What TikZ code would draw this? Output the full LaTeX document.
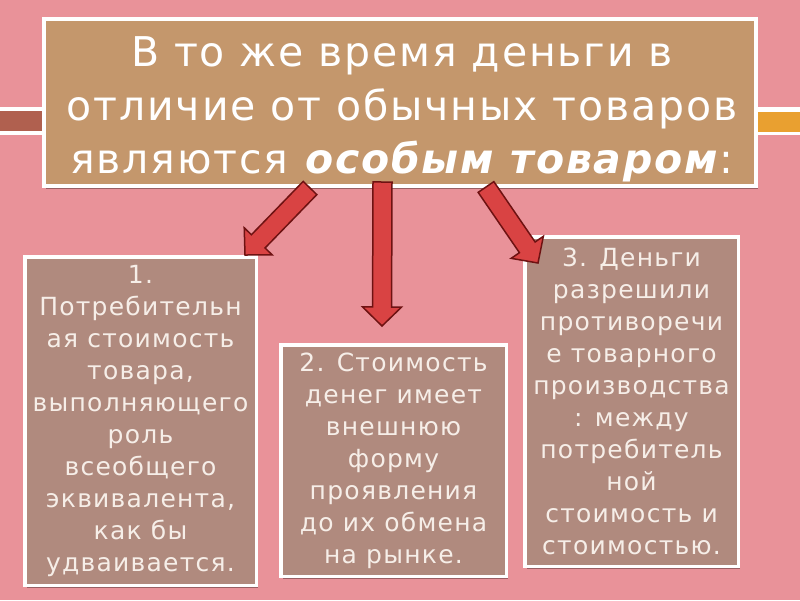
\documentclass[tikz,border=0pt]{standalone}
\usepackage{fontspec}
\setmainfont{DejaVu Sans}
\usepackage{xcolor}
\definecolor{slidepink}{HTML}{E99299}
\definecolor{titletan}{HTML}{C4976C}
\definecolor{boxbrown}{HTML}{B08A7E}
\definecolor{bandbrown}{HTML}{B0604F}
\definecolor{bandorange}{HTML}{E9A030}
\definecolor{arrowred}{HTML}{D94343}
\definecolor{arrowedge}{HTML}{6E1212}
\definecolor{paletext}{HTML}{F6EEE8}
\usepackage{tikz}
\usetikzlibrary{calc,shadows}

\tikzset{
  titlebox/.style={draw=white, line width=3.5pt, fill=titletan, inner sep=0pt,
    minimum width=712pt, minimum height=167pt,
    drop shadow={shadow xshift=2pt, shadow yshift=-2.5pt, fill=black, opacity=0.35}},
  titletext/.style={align=center, text=white, inner sep=0pt,
    font=\fontsize{41}{53.5}\selectfont\addfontfeatures{LetterSpace=4.5}},
  infobox/.style={draw=white, line width=3.5pt, fill=boxbrown, inner sep=0pt,
    align=center, text=paletext,
    font=\fontsize{25}{32}\selectfont\addfontfeatures{LetterSpace=5},
    drop shadow={shadow xshift=2pt, shadow yshift=-2.5pt, fill=black, opacity=0.35}},
  arrowbody/.style={fill=arrowred, draw=arrowedge, line width=1.5pt, line join=miter}
}

% block arrow from tail #1 to tip #2
\newcommand{\blockarrow}[2]{%
  \coordinate (neck) at ($(#2)!19pt!(#1)$);
  \filldraw[arrowbody]
    ($(#1)!9.5pt!90:(#2)$) -- ($(neck)!9.5pt!-90:(#1)$) -- ($(neck)!19.5pt!-90:(#1)$)
    -- (#2) -- ($(neck)!19.5pt!90:(#1)$) -- ($(neck)!9.5pt!90:(#1)$)
    -- ($(#1)!9.5pt!-90:(#2)$) -- cycle;
}

\begin{document}
\begin{tikzpicture}[x=1pt, y=-1pt]
  % Slide background
  \fill[slidepink] (0,0) rectangle (800,600);
  \useasboundingbox (0,0) rectangle (800,600);
  % Decorative band behind the title
  \fill[white] (0,107) rectangle (800,135);
  \fill[bandbrown] (0,110.5) rectangle (400,131);
  \fill[bandorange] (400,111.5) rectangle (800,132);
  % Title
  \node[titlebox] (title) at (400,102.5) {};
  \node[titletext] (titletxt) at ($(title.center)+(2,7)$)
    {В то же время деньги в\\отличие от обычных товаров\\являются \textbf{\textit{особым товаром}}:};
  % Three boxes
  \node[infobox, minimum width=231.5pt, minimum height=328.5pt] (box1) at (140.5,421)
    {1.\\Потребительн\\ая стоимость\\товара,\\выполняющего\\роль\\всеобщего\\эквивалента,\\как бы\\удваивается.};
  \node[infobox, minimum width=225.5pt, minimum height=231.5pt] (box2) at (393.5,460.5)
    {2. Стоимость\\денег имеет\\внешнюю\\форму\\проявления\\до их обмена\\на рынке.};
  \node[infobox, minimum width=213.5pt, minimum height=329.5pt] (box3) at (631.5,401.5)
    {3. Деньги\\разрешили\\противоречи\\е товарного\\производства\\: между\\потребитель\\ной\\стоимость и\\стоимостью.};
  % Arrow ends
  \coordinate (t1) at (310,188);   \coordinate (h1) at (245,255);
  \coordinate (t2) at (382.5,182); \coordinate (h2) at (382,326);
  \coordinate (t3) at (486,187);   \coordinate (h3) at (538,263);
  % Red arrows
  \foreach \s/\t in {t1/h1, t2/h2, t3/h3} {
    \blockarrow{\s}{\t}
  }
\end{tikzpicture}
\end{document}
